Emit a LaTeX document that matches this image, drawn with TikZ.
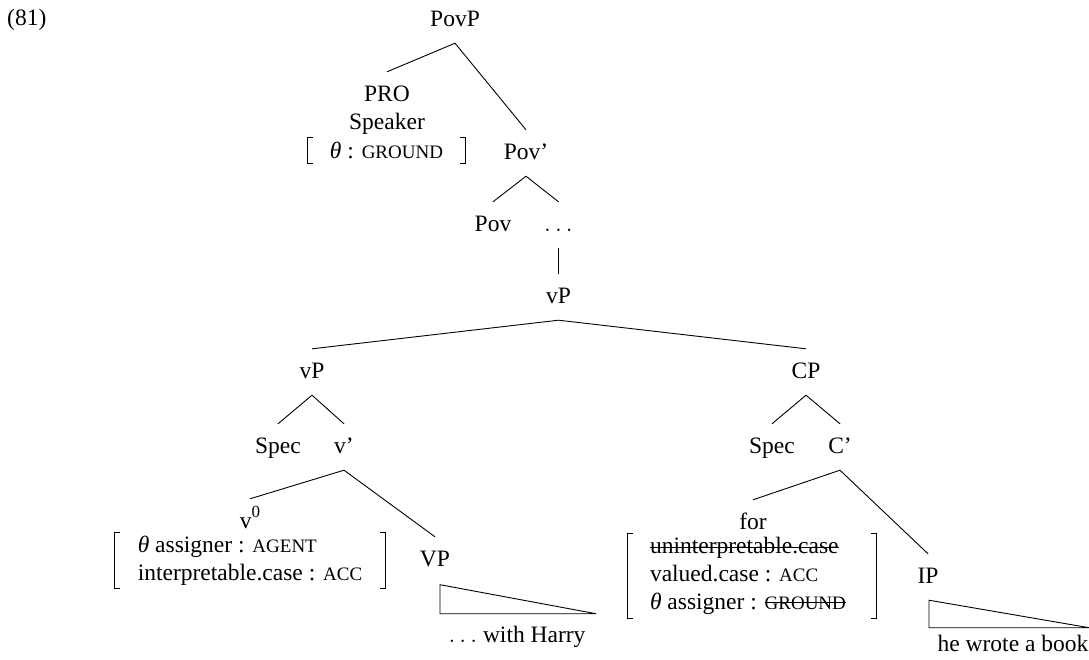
\documentclass[tikz,border=0pt]{standalone}
\usepackage{fontspec}
\setmainfont{Liberation Serif}
% struck-through text: a rule laid over the saved box
\newsavebox\strikebox
\newcommand\struck[2][0.5ex]{\sbox\strikebox{#2}\rlap{\rule[#1]{\wd\strikebox}{0.9pt}}\usebox\strikebox}
% feature values in small capitals
\newcommand\fsc[1]{{\fontsize{19}{21}\selectfont #1}}
\newcommand\throle{{\itshape θ}}
\begin{document}
\begin{tikzpicture}[x=1pt,y=-1pt,
  lbl/.style={font=\fontsize{23.5}{28}\selectfont, inner xsep=1pt, inner ysep=12pt,
              text height=17pt, text depth=5pt},
  txt/.style={font=\fontsize{23.5}{28}\selectfont, inner sep=0pt},
  edge/.style={line width=0.9pt},
  brk/.style={line width=1pt}]
\useasboundingbox (0,0) rectangle (1089,659);

% example number
\node[txt, anchor=west] (num) at (7,20) {(81)};

% upper part of the tree
\node[lbl] (PovP) at (455,20) {PovP};
\node[lbl] (PRO) at (387,95) {PRO};
\node[txt] (spk) at (387,124) {Speaker};
\node[txt, minimum width=157pt, minimum height=25pt] (gr) at (386.5,150.5)
  {\throle\ : \fsc{GROUND}};
\node[lbl] (Povb) at (526,153) {Pov'};
\node[lbl] (Pov) at (493,225) {Pov};
\node[lbl] (dots) at (558.5,225) {$\ldots$};
\node[lbl] (vPt) at (558.5,297) {vP};

% second level
\node[lbl] (vP) at (312,372) {vP};
\node[lbl] (CP) at (806,372) {CP};
\node[lbl] (SpecA) at (278,447) {Spec};
\node[lbl] (vb) at (344,447) {v'};
\node[lbl] (SpecB) at (772,447) {Spec};
\node[lbl] (Cb) at (840,447) {C'};

% heads with their feature matrices
\node[lbl] (v0) at (250,522) {v\raisebox{0.45em}{\fontsize{17}{17}\selectfont 0}};
\node[txt, minimum width=270pt, minimum height=56pt] (vm) at (250,560.5)
  {\begin{tabular}{@{}l@{}}
     \throle\ assigner : \fsc{AGENT}\\
     interpretable.case : \fsc{ACC}
   \end{tabular}};
\node[lbl] (VP) at (435,560) {VP};

\node[lbl] (for) at (753,523) {for};
\node[txt, minimum height=85pt] (fm) at (752,576)
  {\makebox[248pt][l]{\hspace*{22pt}\begin{tabular}{@{}l@{}}
     \struck{uninterpretable.case}\\
     valued.case : \fsc{ACC}\\
     \throle\ assigner : \fsc{\struck[0.72ex]{GROUND}}
   \end{tabular}}};
\node[lbl] (IP) at (928,577) {IP};

% leaves under the triangles
\node[txt] (leafA) at (517,637) {$\ldots$ with Harry};
\node[txt] (leafB) at (1013,643) {he wrote a book};

% brackets round the feature matrices
\foreach \m in {gr,vm,fm}{
  \draw[brk] ([xshift=5pt]\m.north west) -- (\m.north west) -- (\m.south west) -- ([xshift=5pt]\m.south west);
  \draw[brk] ([xshift=-5pt]\m.north east) -- (\m.north east) -- (\m.south east) -- ([xshift=-5pt]\m.south east);
}

% branches
\draw[edge] (PRO.north) -- (PovP.south) -- (Povb.north);
\draw[edge] (Pov.north) -- (Povb.south) -- (dots.north);
\draw[edge] (dots.south) -- (vPt.north);
\draw[edge] (vP.north) -- (vPt.south) -- (CP.north);
\draw[edge] (SpecA.north) -- (vP.south) -- (vb.north);
\draw[edge] (SpecB.north) -- (CP.south) -- (Cb.north);
\draw[edge] (v0.north) -- (vb.south) -- (VP.north);
\draw[edge] (for.north) -- (Cb.south) -- (IP.north);

% triangles for the unanalysed constituents
\draw[edge] ([shift={(5,1.5)}]VP.south) -- ++(0,29) -- ++(156,0) -- cycle;
\draw[edge] ([shift={(1,0)}]IP.south) -- ++(0,27.5) -- ++(160,0) -- cycle;
\end{tikzpicture}
\end{document}
